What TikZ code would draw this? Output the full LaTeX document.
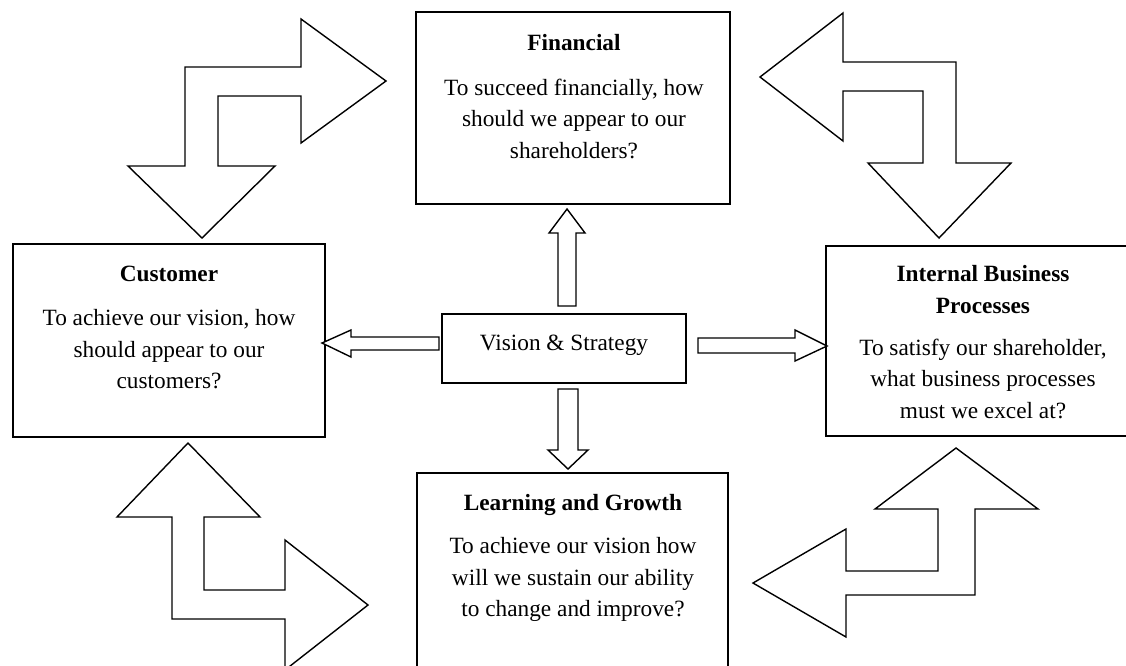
\documentclass[tikz,border=0pt]{standalone}
\usepackage{fontspec}
\setmainfont{Liberation Serif}

\begin{document}
\begin{tikzpicture}[x=1pt, y=-1pt, line width=1.4pt,
	every node/.style={font=\fontsize{23.3}{31.5}\selectfont},
	box/.style={draw, rectangle, inner sep=0pt},
	ttl/.style={font=\fontsize{23.3}{31.5}\selectfont\bfseries, align=center, anchor=north, inner sep=0pt},
	txt/.style={align=center, anchor=north, inner sep=0pt},
	blk/.style={draw, fill=white, line join=miter}]
	\useasboundingbox (0,0) rectangle (1126,665);
	\clip (0,0) rectangle (1126,665);

	\node[box, minimum width=314, minimum height=192] (fin) at (573,108) {};
	\node[box, minimum width=312, minimum height=193] (cust) at (169,340.5) {};
	\node[box, minimum width=314, minimum height=190] (ibp) at (983,341) {};
	\node[box, minimum width=311, minimum height=228] (lg) at (572.5,587) {};
	\node[box, minimum width=244, minimum height=69] (vis) at (564,348.5) {};

	\node[ttl] (fint) at (574,34) {Financial};
	\node[txt] (finx) at (574,78) {To succeed financially, how\\should we appear to our\\shareholders?};

	\node[ttl] (custt) at (169,265) {Customer};
	\node[txt] (custx) at (169,309) {To achieve our vision, how\\should appear to our\\customers?};

	\node[ttl] (ibpt) at (983,265) {Internal Business\\Processes};
	\node[txt] (ibpx) at (983,338) {To satisfy our shareholder,\\what business processes\\must we excel at?};

	\node[ttl] (lgt) at (573,494) {Learning and Growth};
	\node[txt] (lgx) at (573,537) {To achieve our vision how\\will we sustain our ability\\to change and improve?};

	\node[anchor=base] (vist) at (564,350) {Vision \& Strategy};

	\draw[blk] (567,209) -- (585,233) -- (576,233) -- (576,306) -- (558,306) -- (558,233) -- (549,233) -- cycle;
	\draw[blk] (322,343) -- (351,330) -- (351,337) -- (439,337) -- (439,350) -- (351,350) -- (351,357) -- cycle;
	\draw[blk] (827,346) -- (795,330) -- (795,338) -- (698,338) -- (698,353) -- (795,353) -- (795,361) -- cycle;
	\draw[blk] (568,469) -- (588,450) -- (578,450) -- (578,389) -- (558,389) -- (558,450) -- (548,450) -- cycle;

	\draw[blk] (386,81) -- (301,19) -- (301,67) -- (185,67) -- (185,166) -- (128,166) -- (202,238)
		-- (275,166) -- (218,166) -- (218,96) -- (301,96) -- (301,143) -- cycle;
	\draw[blk] (760,77) -- (843,13) -- (843,62) -- (956,62) -- (956,163) -- (1011,163) -- (939,238)
		-- (868,163) -- (923,163) -- (923,91) -- (843,91) -- (843,141) -- cycle;
	\draw[blk] (188,443) -- (260,517) -- (204,517) -- (204,590) -- (285,590) -- (285,540) -- (368,605)
		-- (285,670) -- (285,619) -- (172,619) -- (172,517) -- (117,517) -- cycle;
	\draw[blk] (956,448) -- (1038,509) -- (975,509) -- (975,595) -- (846,595) -- (846,637) -- (753,583)
		-- (846,529) -- (846,571) -- (938,571) -- (938,509) -- (875,509) -- cycle;

\end{tikzpicture}
\end{document}
